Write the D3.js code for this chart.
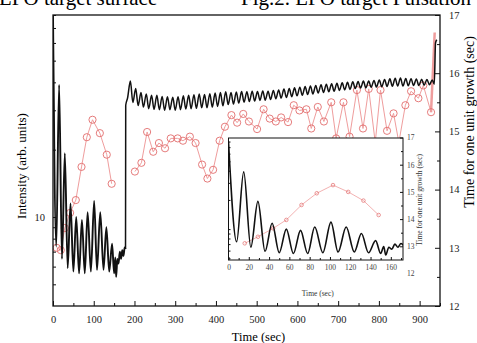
<!DOCTYPE html>
<html>
<head>
<meta charset="utf-8">
<script src="https://cdn.jsdelivr.net/npm/d3@7"></script>
<style>
  body { margin: 0; background: #fff; }
  svg { display: block; font-family: "Liberation Serif", "Times New Roman", serif; }
  .axis path { display: none; }
  .axis line { stroke: #111; }
</style>
</head>
<body>
<div id="chart"></div>
<script>
// intensity (arb. units), [time (sec), value]
const intensityBefore = [
  [0, 80], [8, 7.4], [15, 38.9], [22, 6.5], [29, 19.3], [36, 5.9], [43, 11.5], [50, 5.7],
  [57, 10], [64, 5.6], [71, 9.7], [78, 5.6], [85, 10.5], [93, 5.7], [101, 11.8], [108, 5.8],
  [116, 10.5], [124, 5.8], [131, 9], [138, 5.7], [145, 7.6], [150, 5.6], [153, 6.6], [155, 5.4],
  [158, 6.5], [161, 6.2], [164, 7], [167, 6.5], [170, 7.1], [173, 6.7], [176, 7.3], [178, 7.2]
];
const intensityAfter = [
  [178.5, 31.6], [183, 34], [190, 40.5], [196, 32.5], [203, 37.5], [209, 31.5], [216, 36], [222, 31],
  [229, 35.5], [235, 30.5], [242, 35], [248, 30.3], [255, 35], [261, 30.2], [268, 34.6], [274, 30],
  [281, 34.5], [287, 30.2], [294, 34.3], [300, 30], [307, 34.5], [313, 30.2], [320, 34.8], [326, 30.4],
  [333, 35], [339, 30.5], [346, 35.2], [352, 30.6], [359, 35.5], [365, 30.8], [372, 35.3], [378, 30.8],
  [385, 35.6], [391, 31], [398, 35.8], [404, 31.2], [411, 36], [417, 31.4], [424, 36.3], [430, 31.8],
  [437, 36], [443, 32], [450, 36.2], [456, 32.3], [463, 36.4], [469, 32.6], [476, 36.3], [482, 32.8],
  [489, 36.5], [495, 33], [502, 36.4], [508, 33.2], [515, 36.6], [521, 33.3], [528, 36.5], [534, 33.5],
  [541, 36.8], [547, 33.8], [554, 37], [560, 34], [567, 37.3], [573, 34.2], [580, 37.5], [586, 34.5],
  [593, 37.8], [599, 34.8], [606, 38], [612, 35], [619, 38.3], [625, 35.3], [632, 38.5], [638, 35.5],
  [645, 38.7], [651, 35.8], [658, 39], [664, 36], [671, 39.2], [677, 36.3], [684, 39.4], [690, 36.5],
  [697, 39.6], [703, 36.8], [710, 39.8], [716, 37], [723, 40], [729, 37.2], [736, 40.2], [742, 37.5],
  [749, 40.3], [755, 37.7], [762, 40.5], [768, 37.8], [775, 40.6], [781, 38], [788, 40.8], [794, 38.1],
  [801, 41], [807, 38.2], [814, 41.2], [820, 38.3], [827, 41.5], [833, 38.4], [840, 41.7], [846, 38.5],
  [853, 41.8], [859, 38.5], [866, 41.6], [872, 38.6], [879, 41.5], [885, 38.7], [892, 41.4], [898, 38.7],
  [905, 41.3], [911, 38.8], [918, 41.2], [924, 39], [931, 41], [936, 39.2], [939, 60], [942, 62]
];

// time for one unit growth (sec)
const growthBefore = [
  [9, 13.0], [19, 12.96], [29, 13.34], [42, 13.6], [56, 13.82], [70, 14.39], [83, 14.9],
  [97, 15.2], [115, 14.97], [132, 14.6], [144, 14.1]
];
const growthAfter = [
  [201, 14.31], [217, 14.46], [231, 14.99], [246, 14.65], [260, 14.8], [275, 14.71], [289, 14.88],
  [306, 14.88], [319, 14.84], [336, 14.91], [350, 14.8], [366, 14.43], [379, 14.19], [393, 14.34],
  [409, 14.84], [422, 15.08], [438, 15.28], [452, 15.15], [467, 15.3], [481, 15.17], [501, 15.04],
  [517, 15.38], [532, 15.22], [547, 15.17], [560, 15.24], [577, 15.16], [591, 15.45], [605, 15.36],
  [622, 15.38], [634, 15.05], [650, 15.42], [665, 15.17], [683, 15.5], [695, 14.88], [713, 15.5],
  [728, 14.91], [746, 15.71], [761, 15.05], [775, 15.73], [791, 14.81], [804, 15.71], [820, 15.01],
  [836, 15.31], [849, 14.81], [865, 15.45], [879, 15.69], [897, 15.57], [909, 15.79], [928, 15.33]
];
const growthTail = [[928, 15.33], [937, 16.7]];

// inset: first 170 s
const insetGrowth = [
  [16, 13.11], [29, 13.35], [44, 13.66], [57, 13.97], [72, 14.52], [87, 14.95], [103, 15.25],
  [118, 15.0], [133, 14.68], [148, 14.15]
];

const timeTicks = [0, 100, 200, 300, 400, 500, 600, 700, 800, 900];
const timeMinor = [50, 150, 250, 350, 450, 550, 650, 750, 850, 950];
const intensityTicks = [5, 6, 7, 8, 9, 10, 20, 30, 40, 50, 60, 70, 80];
const growthTicks = [12, 13, 14, 15, 16, 17];
const growthMinor = [12.5, 13.5, 14.5, 15.5, 16.5];
const insetTimeTicks = [0, 20, 40, 60, 80, 100, 120, 140, 160];
const insetTimeMinor = [10, 30, 50, 70, 90, 110, 130, 150, 170];

const width = 477, height = 343;
const frame = { left: 53, right: 440, top: 15, bottom: 306 };
const inset = { left: 228.5, right: 403, top: 138, bottom: 260 };
const lineColor = '#111';
const redLine = '#ef9d9d';
const redMark = '#e26d6d';
const intFmt = d3.format('d');

const svg = d3.select('#chart').append('svg')
  .attr('width', width)
  .attr('height', height);

// caption of the page, cut off at the top in the source
svg.append('text').attr('x', -1).attr('y', 5).attr('font-size', 21).text('LPO target surface');
svg.append('text').attr('x', 241).attr('y', 5).attr('font-size', 21).text('Fig.2. LPO target Pulsation');

const x = d3.scaleLinear().domain([0, 950]).range([frame.left, frame.right]);
const yI = d3.scaleLog().domain([4, 80]).range([frame.bottom, frame.top]);
const yG = d3.scaleLinear().domain([12, 17]).range([frame.bottom, frame.top]);

svg.append('clipPath').attr('id', 'clip-main')
  .append('rect')
  .attr('x', frame.left).attr('y', frame.top)
  .attr('width', frame.right - frame.left).attr('height', frame.bottom - frame.top);

const plot = svg.append('g').attr('clip-path', 'url(#clip-main)');

const intensityLine = d3.line().x(d => x(d[0])).y(d => yI(d[1])).curve(d3.curveMonotoneX);
const growthLine = d3.line().x(d => x(d[0])).y(d => yG(d[1]));

plot.append('path')
  .datum(growthBefore)
  .attr('d', growthLine)
  .attr('fill', 'none').attr('stroke', redLine).attr('stroke-width', 1);
plot.append('path')
  .datum(growthAfter)
  .attr('d', growthLine)
  .attr('fill', 'none').attr('stroke', redLine).attr('stroke-width', 1);
plot.append('path')
  .datum(growthTail)
  .attr('d', growthLine)
  .attr('fill', 'none').attr('stroke', redLine).attr('stroke-width', 2.5);

plot.selectAll('.g-dot')
  .data(growthBefore.concat(growthAfter))
  .enter()
  .append('circle')
  .attr('class', 'g-dot')
  .attr('cx', d => x(d[0]))
  .attr('cy', d => yG(d[1]))
  .attr('r', 3.6)
  .attr('fill', 'none')
  .attr('stroke', redMark)
  .attr('stroke-width', 0.9);

plot.append('path')
  .datum(intensityBefore)
  .attr('d', intensityLine)
  .attr('fill', 'none')
  .attr('stroke', lineColor)
  .attr('stroke-width', 1.9)
  .attr('stroke-linejoin', 'round');

plot.append('path')
  .datum([intensityBefore[intensityBefore.length - 1]].concat(intensityAfter))
  .attr('d', intensityLine)
  .attr('fill', 'none')
  .attr('stroke', lineColor)
  .attr('stroke-width', 1.5)
  .attr('stroke-linejoin', 'round');

// frame
svg.append('rect')
  .attr('x', frame.left).attr('y', frame.top)
  .attr('width', frame.right - frame.left).attr('height', frame.bottom - frame.top)
  .attr('fill', 'none').attr('stroke', lineColor).attr('stroke-width', 1.3);

// axes
svg.append('g').attr('class', 'axis main-axis')
  .attr('transform', `translate(0,${frame.bottom})`)
  .call(d3.axisBottom(x).tickValues(timeTicks).tickSize(-5).tickPadding(10).tickFormat(intFmt));
svg.append('g').attr('class', 'axis')
  .attr('transform', `translate(0,${frame.bottom})`)
  .call(d3.axisBottom(x).tickValues(timeMinor).tickSize(-3).tickFormat(''));

svg.append('g').attr('class', 'axis main-axis')
  .attr('transform', `translate(${frame.left},0)`)
  .call(d3.axisLeft(yI).tickValues(intensityTicks).tickSize(-3).tickPadding(8)
    .tickFormat(d => d === 10 ? '10' : ''));

svg.append('g').attr('class', 'axis main-axis')
  .attr('transform', `translate(${frame.right},0)`)
  .call(d3.axisRight(yG).tickValues(growthTicks).tickSize(-5).tickPadding(9).tickFormat(intFmt));
svg.append('g').attr('class', 'axis')
  .attr('transform', `translate(${frame.right},0)`)
  .call(d3.axisRight(yG).tickValues(growthMinor).tickSize(-3).tickFormat(''));

svg.selectAll('.main-axis text')
  .attr('font-family', '"Liberation Serif", serif')
  .attr('font-size', 10.5)
  .attr('fill', '#222');

// axis titles
svg.append('text')
  .attr('x', (frame.left + frame.right) / 2 + 12)
  .attr('y', 341)
  .attr('text-anchor', 'middle')
  .attr('font-size', 12.5)
  .text('Time (sec)');

svg.append('text')
  .attr('transform', 'translate(26,166) rotate(-90)')
  .attr('text-anchor', 'middle')
  .attr('font-size', 13)
  .text('Intensity (arb. units)');

svg.append('text')
  .attr('transform', 'translate(473.5,122) rotate(-90)')
  .attr('text-anchor', 'middle')
  .attr('font-size', 14)
  .text('Time for one unit growth (sec)');

// ---- inset ----
const ix = d3.scaleLinear().domain([0, 172]).range([inset.left, inset.right]);
const iyI = d3.scaleLog().domain([4.8, 87]).range([inset.bottom, inset.top]);
const iyG = d3.scaleLinear().domain([12, 17]).range([273.5, 137.5]);

const ins = svg.append('g');
ins.append('rect')
  .attr('x', inset.left).attr('y', inset.top)
  .attr('width', inset.right - inset.left).attr('height', inset.bottom - inset.top)
  .attr('fill', '#fff');

svg.append('clipPath').attr('id', 'clip-inset')
  .append('rect')
  .attr('x', inset.left).attr('y', inset.top)
  .attr('width', inset.right - inset.left).attr('height', inset.bottom - inset.top);

const insPlot = ins.append('g').attr('clip-path', 'url(#clip-inset)');

insPlot.append('path')
  .datum(insetGrowth)
  .attr('d', d3.line().x(d => ix(d[0])).y(d => iyG(d[1])))
  .attr('fill', 'none').attr('stroke', redLine).attr('stroke-width', 0.8);

insPlot.selectAll('.ig-dot')
  .data(insetGrowth)
  .enter()
  .append('circle')
  .attr('class', 'ig-dot')
  .attr('cx', d => ix(d[0]))
  .attr('cy', d => iyG(d[1]))
  .attr('r', 1.8)
  .attr('fill', 'none')
  .attr('stroke', redMark)
  .attr('stroke-width', 0.7);

insPlot.append('path')
  .datum(intensityBefore.concat(intensityAfter).filter(d => d[0] <= 175))
  .attr('d', d3.line().x(d => ix(d[0])).y(d => iyI(d[1])).curve(d3.curveMonotoneX))
  .attr('fill', 'none')
  .attr('stroke', lineColor)
  .attr('stroke-width', 1.6);

ins.append('rect')
  .attr('x', inset.left).attr('y', inset.top)
  .attr('width', inset.right - inset.left).attr('height', inset.bottom - inset.top)
  .attr('fill', 'none').attr('stroke', lineColor).attr('stroke-width', 1);

ins.append('g').attr('class', 'axis inset-axis')
  .attr('transform', `translate(0,${inset.bottom})`)
  .call(d3.axisBottom(ix).tickValues(insetTimeTicks).tickSize(-3).tickPadding(5).tickFormat(intFmt));
ins.append('g').attr('class', 'axis')
  .attr('transform', `translate(0,${inset.bottom})`)
  .call(d3.axisBottom(ix).tickValues(insetTimeMinor).tickSize(-2).tickFormat(''));

ins.append('g').attr('class', 'axis')
  .attr('transform', `translate(${inset.left},0)`)
  .call(d3.axisLeft(iyI).tickValues(intensityTicks).tickSize(-2).tickFormat(''));

const insRight = ins.append('g').attr('class', 'axis inset-axis')
  .attr('transform', `translate(${inset.right},0)`)
  .call(d3.axisRight(iyG).tickValues(growthTicks).tickSize(-3).tickPadding(4).tickFormat(intFmt));
insRight.selectAll('.tick').filter(d => d === 12).select('line').remove();
ins.append('g').attr('class', 'axis')
  .attr('transform', `translate(${inset.right},0)`)
  .call(d3.axisRight(iyG).tickValues(growthMinor.filter(v => v > 12.5)).tickSize(-2).tickFormat(''));

ins.selectAll('.inset-axis text')
  .attr('font-family', '"Liberation Serif", serif')
  .attr('font-size', 7.5)
  .attr('fill', '#444');

ins.append('text')
  .attr('x', (inset.left + inset.right) / 2 + 2)
  .attr('y', 296)
  .attr('text-anchor', 'middle')
  .attr('font-size', 7.5)
  .attr('fill', '#333')
  .text('Time (sec)');

ins.append('text')
  .attr('transform', 'translate(422,200) rotate(-90)')
  .attr('text-anchor', 'middle')
  .attr('font-size', 7.5)
  .attr('fill', '#333')
  .text('Time for one unit growth (sec)');
</script>
</body>
</html>
